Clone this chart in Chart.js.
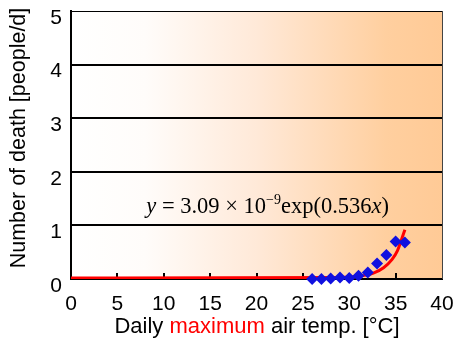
<!DOCTYPE html>
<html>
<head>
<meta charset="utf-8">
<script src="https://cdn.jsdelivr.net/npm/chart.js@4"></script>
<style>
  html, body { margin: 0; padding: 0; background: #fff; }
  #wrap { width: 459px; height: 338px; }
</style>
</head>
<body>
<div id="wrap"><canvas id="deathChart" width="459" height="338"></canvas></div>
<script>
// observed points (blue diamonds)
const tempObs = [26, 27, 28, 29, 30, 31, 32, 33, 34, 35, 36];
const deathObs = [0.00, 0.00, 0.01, 0.03, 0.02, 0.06, 0.12, 0.29, 0.45, 0.70, 0.68];

// fitted curve
const curveTemp = [0, 29, 31, 32.6, 33.7, 34.6, 35.2, 35.6, 36];
const curveDeath = [0.02, 0.03, 0.05, 0.11, 0.21, 0.36, 0.53, 0.72, 0.92];

const xTicks = [0, 5, 10, 15, 20, 25, 30, 35, 40];
const yTicks = [0, 1, 2, 3, 4, 5];

const sans = '"Liberation Sans", Arial, sans-serif';
const serif = '"Liberation Serif", "Times New Roman", serif';

// background gradient, frame, inward ticks, titles and equation
const decor = {
    id: 'decor',
    beforeDraw(chart) {
        const { ctx, chartArea: a } = chart;
        const g = ctx.createLinearGradient(a.left, 0, a.right, 0);
        g.addColorStop(0, '#ffffff');
        g.addColorStop(0.2, '#fffcfa');
        g.addColorStop(0.5, '#ffe9d8');
        g.addColorStop(0.85, '#ffcf9f');
        g.addColorStop(1, '#ffca96');
        ctx.save();
        ctx.fillStyle = g;
        ctx.fillRect(a.left, a.top, a.right - a.left, a.bottom - a.top);
        ctx.restore();
    },
    beforeDatasetsDraw(chart) {
        const { ctx, chartArea: a, scales } = chart;
        ctx.save();
        ctx.strokeStyle = '#000';
        ctx.lineWidth = 2;
        xTicks.slice(1, -1).forEach(v => {
            const px = Math.round(scales.x.getPixelForValue(v));
            ctx.beginPath();
            ctx.moveTo(px, a.bottom);
            ctx.lineTo(px, a.bottom - 6);
            ctx.stroke();
        });
        // right frame
        ctx.strokeStyle = '#444';
        ctx.lineWidth = 1;
        ctx.beginPath();
        ctx.moveTo(a.right + 0.5, a.top);
        ctx.lineTo(a.right + 0.5, a.bottom);
        ctx.stroke();
        ctx.restore();
    },
    afterDraw(chart) {
        const { ctx, scales } = chart;
        ctx.save();
        // x title with red word
        const parts = [['Daily ', '#000'], ['maximum', '#ff0000'], [' air temp. [\u00b0C]', '#000']];
        ctx.font = '22px ' + sans;
        ctx.textBaseline = 'alphabetic';
        let total = 0;
        parts.forEach(p => total += ctx.measureText(p[0]).width);
        let x = 257 - total / 2;
        parts.forEach(p => {
            ctx.fillStyle = p[1];
            ctx.fillText(p[0], x, 333);
            x += ctx.measureText(p[0]).width;
        });

        // y title
        ctx.translate(25, 138);
        ctx.rotate(-Math.PI / 2);
        ctx.fillStyle = '#000';
        ctx.textAlign = 'center';
        ctx.font = '21.5px ' + sans;
        ctx.fillText('Number of death [people/d]', 0, 0);
        ctx.setTransform(1, 0, 0, 1, 0, 0);

        // equation
        const eq = [
            ['y', 'italic 22.5px ' + serif, 0],
            [' = 3.09 \u00d7 10', '22.5px ' + serif, 0],
            ['\u22129', '14px ' + serif, -9],
            ['exp(0.536', '22.5px ' + serif, 0],
            ['x', 'italic 22.5px ' + serif, 0],
            [')', '22.5px ' + serif, 0]
        ];
        ctx.textAlign = 'left';
        let w = 0;
        eq.forEach(p => { ctx.font = p[1]; w += ctx.measureText(p[0]).width; });
        let ex = scales.x.getPixelForValue(21.2) - w / 2;
        const ey = scales.y.getPixelForValue(1.24);
        eq.forEach(p => {
            ctx.font = p[1];
            ctx.fillText(p[0], ex, ey + p[2]);
            ex += ctx.measureText(p[0]).width;
        });
        ctx.restore();
    }
};

new Chart(document.getElementById('deathChart').getContext('2d'), {
    type: 'scatter',
    data: {
        datasets: [{
            label: 'fit',
            data: curveTemp.map((t, i) => ({ x: t, y: curveDeath[i] })),
            showLine: true,
            borderColor: '#ff0000',
            borderWidth: 3,
            pointRadius: 0,
            cubicInterpolationMode: 'monotone',
            order: 2
        }, {
            label: 'observed',
            data: tempObs.map((t, i) => ({ x: t, y: deathObs[i] })),
            pointStyle: 'rectRot',
            pointRadius: 6,
            backgroundColor: '#1010e0',
            borderColor: '#1010e0',
            borderWidth: 0,
            clip: false,
            order: 1
        }]
    },
    options: {
        responsive: false,
        animation: false,
        layout: { padding: { top: 11, right: 17, left: 0, bottom: 0 } },
        plugins: { legend: { display: false }, tooltip: { enabled: false } },
        scales: {
            x: {
                type: 'linear',
                min: 0, max: 40,
                afterFit: s => { s.height = 59; s.paddingLeft = 0; s.paddingRight = 0; },
                afterBuildTicks: s => { s.ticks = xTicks.map(v => ({ value: v })); },
                ticks: { color: '#000', font: { family: sans, size: 21 }, padding: 13, maxRotation: 0 },
                grid: { display: false, drawTicks: false },
                border: { color: '#000', width: 2 }
            },
            y: {
                min: 0, max: 5,
                afterFit: s => { s.width = 71; s.paddingTop = 0; s.paddingBottom = 0; },
                afterBuildTicks: s => { s.ticks = yTicks.map(v => ({ value: v })); },
                ticks: { color: '#000', font: { family: sans, size: 21 }, padding: 9, labelOffset: 7 },
                grid: {
                    color: '#000',
                    lineWidth: c => (c.tick && c.tick.value === 5 ? 1 : 2),
                    drawTicks: false
                },
                border: { color: '#000', width: 2 }
            }
        }
    },
    plugins: [decor]
});
</script>
</body>
</html>
